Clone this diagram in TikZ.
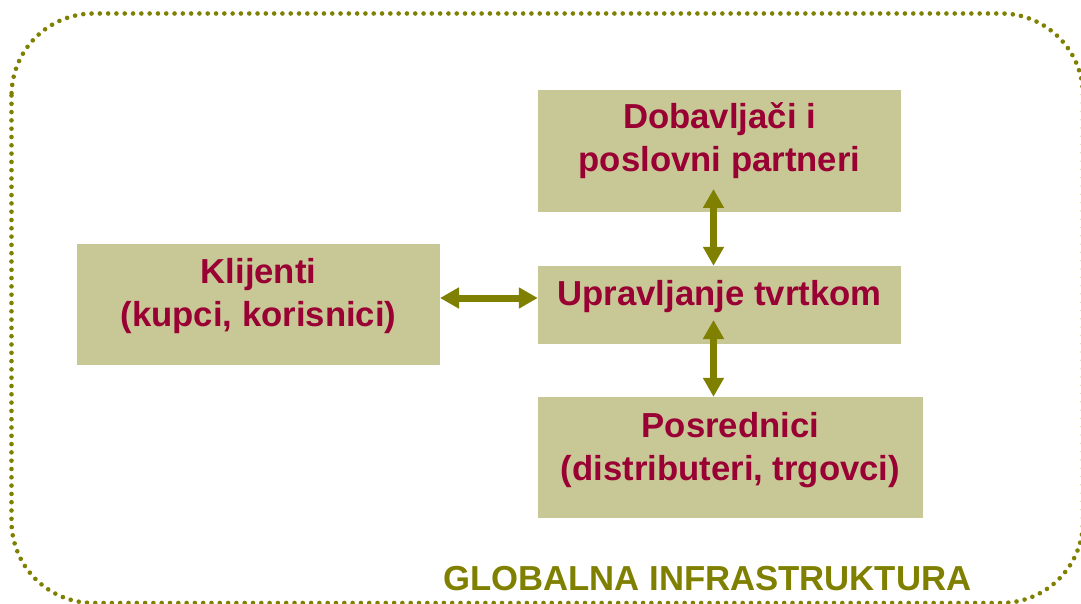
\documentclass[tikz,border=0pt]{standalone}
\usepackage{fontspec}
\setmainfont{Liberation Sans}
\usetikzlibrary{arrows.meta}
\definecolor{boxfill}{RGB}{200,200,150}
\definecolor{wine}{RGB}{153,0,51}
\definecolor{olivec}{RGB}{128,128,0}
\begin{document}
\begin{tikzpicture}[x=1pt,y=-1pt,
  boxst/.style={rectangle, fill=boxfill, draw=none, inner sep=0pt},
  lbl/.style={anchor=north, inner sep=0pt, align=center, text=wine,
              font=\fontsize{34.7}{43}\selectfont\bfseries},
  link/.style={draw=olivec, line width=7pt,
               {Triangle[length=19pt,width=20pt]}-{Triangle[length=19pt,width=20pt]}},
  frame/.style={draw=olivec, line width=4.6pt, line cap=round,
                dash pattern=on 0pt off 8.3pt, rounded corners=82pt}]
\useasboundingbox (0,0) rectangle (1081,604);
\fill[white] (0,0) rectangle (1081,604);
% outer dotted frame
\draw[frame] (11.5,13.5) rectangle (1083,603);
% boxes
\node[boxst, minimum width=363pt, minimum height=122pt] (sup) at (719.5,151) {};
\node[boxst, minimum width=363pt, minimum height=121pt] (cli) at (258.5,304.5) {};
\node[boxst, minimum width=363pt, minimum height=78pt] (mgmt) at (719.5,305) {};
\node[boxst, minimum width=385pt, minimum height=121pt] (inter) at (730.5,457.5) {};
% labels
\node[lbl] (supt) at ([yshift=-13pt]sup.north) {Dobavljači i\\poslovni partneri};
\node[lbl] (clit) at ([yshift=-14.5pt]cli.north) {Klijenti\\(kupci, korisnici)};
\node[lbl] (mgmtt) at ([yshift=-14.5pt]mgmt.north) {Upravljanje tvrtkom};
\node[lbl] (intert) at ([yshift=-15.5pt]inter.north) {Posrednici\\(distributeri, trgovci)};
% connectors
\coordinate (t1) at (713.5,189);
\coordinate (t2) at (713.5,320);
\coordinate (h1) at (440,298);
\draw[link] (t1) -- (t1 |- mgmt.north);
\draw[link] (t2) -- (t2 |- inter.north);
\draw[link] (h1) -- (h1 -| mgmt.west);
% caption
\node[anchor=base west, inner sep=0pt, text=olivec,
      font=\fontsize{34.7}{43}\selectfont\bfseries] (glob) at (443,590) {GLOBALNA INFRASTRUKTURA};
\end{tikzpicture}
\end{document}
